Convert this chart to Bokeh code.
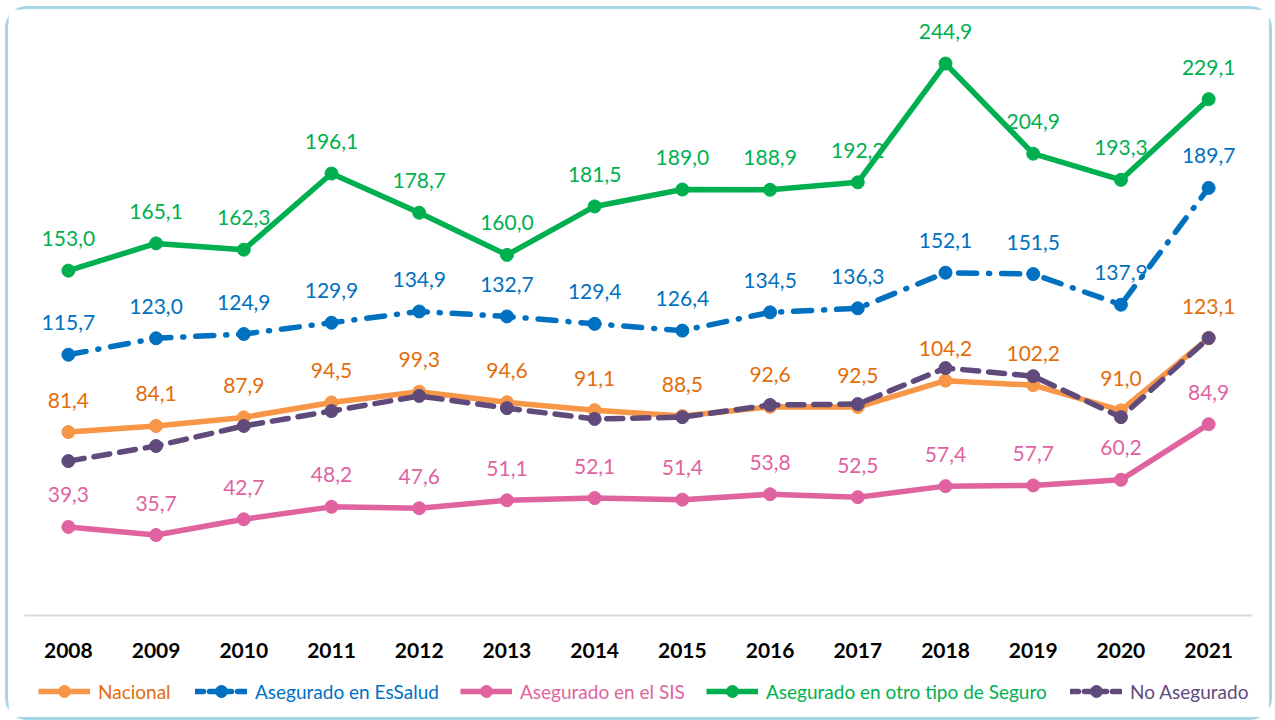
from bokeh.plotting import figure
from bokeh.models import Range1d, FixedTicker, Legend, LegendItem, ColumnDataSource
from bokeh.layouts import column
from bokeh.core.properties import value
from bokeh.embed import file_html
from bokeh.resources import INLINE

years = [2008, 2009, 2010, 2011, 2012, 2013, 2014, 2015, 2016, 2017, 2018, 2019, 2020, 2021]
nacional = [81.4, 84.1, 87.9, 94.5, 99.3, 94.6, 91.1, 88.5, 92.6, 92.5, 104.2, 102.2, 91.0, 123.1]
essalud = [115.7, 123.0, 124.9, 129.9, 134.9, 132.7, 129.4, 126.4, 134.5, 136.3, 152.1, 151.5, 137.9, 189.7]
sis = [39.3, 35.7, 42.7, 48.2, 47.6, 51.1, 52.1, 51.4, 53.8, 52.5, 57.4, 57.7, 60.2, 84.9]
otro = [153.0, 165.1, 162.3, 196.1, 178.7, 160.0, 181.5, 189.0, 188.9, 192.2, 244.9, 204.9, 193.3, 229.1]
no_asegurado = [68.5, 75.2, 84.1, 90.7, 97.4, 92.0, 87.2, 88.0, 93.4, 93.8, 109.8, 106.2, 88.0, 123.1]

FONT = "Lato"
W = 1261

p = figure(width=W, height=663, output_backend="svg", toolbar_location=None,
           x_range=Range1d(2007.5, 2021.5), y_range=Range1d(0, 264),
           y_axis_location=None, min_border_left=16, min_border_right=17,
           min_border_top=11, min_border_bottom=57)
p.outline_line_color = None
p.grid.visible = False
p.background_fill_color = "white"
p.border_fill_color = "white"

ax = p.xaxis[0]
ax.ticker = FixedTicker(ticks=years)
ax.axis_line_color = "#D9D9D9"
ax.axis_line_width = 2
ax.major_tick_line_color = None
ax.minor_tick_line_color = None
ax.major_label_text_font = FONT
ax.major_label_text_font_style = "bold"
ax.major_label_text_font_size = "21px"
ax.major_label_text_color = "black"
ax.major_label_standoff = 21

lg = figure(width=W, height=45, output_backend="svg", toolbar_location=None,
            x_range=Range1d(0, 1), y_range=Range1d(0, 1),
            x_axis_location=None, y_axis_location=None,
            min_border=0, min_border_left=0, min_border_right=0,
            min_border_top=0, min_border_bottom=0)
lg.outline_line_color = None
lg.grid.visible = False

series = [
    ("Nacional", nacional, "#F79646", "#E46C0A", "solid", True, 14),
    ("Asegurado en EsSalud", essalud, "#0070C0", "#0070C0", "18 12 1 12", True, 171),
    ("Asegurado en el SIS", sis, "#E063A0", "#E063A0", "solid", True, 436),
    ("Asegurado en otro tipo de Seguro", otro, "#00B050", "#00B050", "solid", True, 682),
    ("No Asegurado", no_asegurado, "#604A7B", "#604A7B", "16 10", False, 1046),
]

for name, vals, col, tcol, dash, labelled, vx in series:
    src = ColumnDataSource(dict(x=years, y=vals,
                                lab=[f"{v:.1f}".replace(".", ",") for v in vals]))
    cap = "round" if dash != "solid" else "butt"
    p.line("x", "y", source=src, line_color=col, line_width=5.5,
           line_dash=dash, line_cap=cap, line_join="round")
    p.scatter("x", "y", source=src, size=13, fill_color=col, line_color=col)
    if labelled:
        p.text("x", "y", text="lab", source=src, text_color=tcol,
               text_font=value(FONT), text_font_size="21px",
               text_align="center", text_baseline="middle", y_offset=-32)
    # legend swatch renderers in the legend strip (kept outside its visible range)
    ln = lg.line([-5, -4], [-5, -4], line_color=col, line_width=5.5,
                 line_dash="8 6" if dash != "solid" else "solid", line_cap=cap)
    sc = lg.scatter([-5], [-5], size=13, fill_color=col, line_color=col)
    leg = Legend(items=[LegendItem(label=name, renderers=[ln, sc])],
                 location=(vx, 11), orientation="horizontal",
                 padding=0, margin=0, border_line_color=None,
                 background_fill_alpha=0, glyph_width=52, glyph_height=30,
                 label_standoff=8, label_text_font=FONT,
                 label_text_font_size="19px", label_text_color=tcol,
                 label_text_baseline="middle", label_height=30)
    lg.add_layout(leg, "center")

layout = column(p, lg, spacing=0)
layout.styles = {"border": "3px solid #A5D6E4", "border-radius": "22px",
                 "margin-left": "5px", "margin-top": "6px"}

open("out.html", "w").write(file_html(layout, INLINE))
